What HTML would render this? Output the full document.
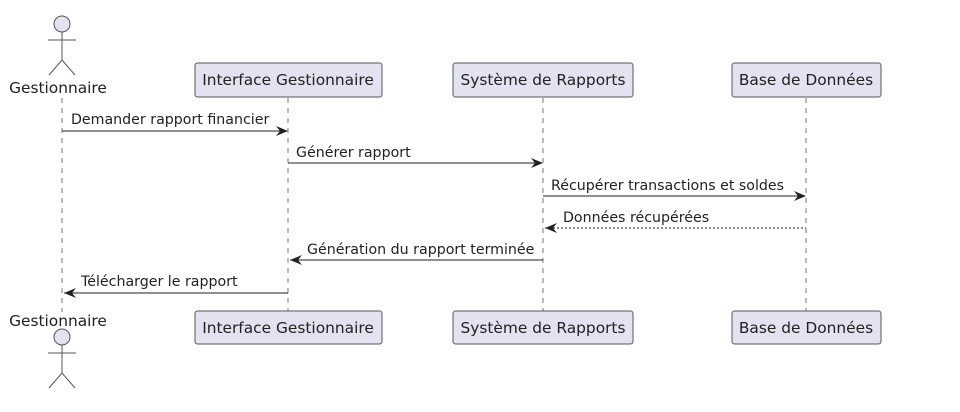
<!DOCTYPE html>
<html><head><meta charset="utf-8"><style>body{margin:0;background:#fff}</style></head><body>
<svg width="960" height="407" xmlns="http://www.w3.org/2000/svg" font-family="DejaVu Sans, Liberation Sans, sans-serif" font-size="14.2" fill="#222">
<g stroke="#777" stroke-dasharray="5,5" stroke-width="1">
<line x1="62" y1="98" x2="62" y2="312"/><line x1="288" y1="98" x2="288" y2="312"/>
<line x1="543" y1="98" x2="543" y2="312"/><line x1="806" y1="98" x2="806" y2="312"/>
</g>
<g fill="#e2e2f0" stroke="#555" stroke-width="1">
<circle cx="62" cy="24" r="8"/><circle cx="62" cy="337" r="8"/>
<rect x="195" y="63" width="187" height="34" rx="2.5"/><rect x="453" y="63" width="180" height="34" rx="2.5"/><rect x="732" y="63" width="149" height="34" rx="2.5"/>
<rect x="195" y="311" width="187" height="33" rx="2.5"/><rect x="453" y="311" width="180" height="33" rx="2.5"/><rect x="732" y="311" width="149" height="33" rx="2.5"/>
</g>
<g stroke="#555" fill="none">
<path d="M62 32V60M48 40H76M49 75L62 60L75 75"/>
<path d="M62 345V373M48 353H76M49 388L62 373L75 388"/>
</g>
<g font-size="15.4" text-anchor="middle">
<text x="58" y="93">Gestionnaire</text><text x="58" y="326">Gestionnaire</text>
<text x="288" y="85">Interface Gestionnaire</text><text x="543" y="85">Système de Rapports</text><text x="806" y="85">Base de Données</text>
<text x="288" y="333">Interface Gestionnaire</text><text x="543" y="333">Système de Rapports</text><text x="806" y="333">Base de Données</text>
</g>
<g stroke="#222" stroke-width="1">
<line x1="62" y1="131" x2="286" y2="131"/><line x1="288" y1="163" x2="541" y2="163"/><line x1="543" y1="196" x2="804" y2="196"/>
<line x1="545" y1="228" x2="806" y2="228" stroke-dasharray="2,2"/>
<line x1="290" y1="260" x2="543" y2="260"/><line x1="64" y1="293" x2="288" y2="293"/>
</g>
<g fill="#222">
<path d="M288 131l-12-5 4 5-4 5z"/><path d="M543 163l-12-5 4 5-4 5z"/><path d="M806 196l-12-5 4 5-4 5z"/>
<path d="M545 228l12-5-4 5 4 5z"/><path d="M290 260l12-5-4 5 4 5z"/><path d="M64 293l12-5-4 5 4 5z"/>
</g>
<text x="71" y="124">Demander rapport financier</text>
<text x="296" y="157">Générer rapport</text>
<text x="551" y="190">Récupérer transactions et soldes</text>
<text x="563" y="222">Données récupérées</text>
<text x="307" y="254">Génération du rapport terminée</text>
<text x="81" y="286">Télécharger le rapport</text>
</svg>
</body></html>
